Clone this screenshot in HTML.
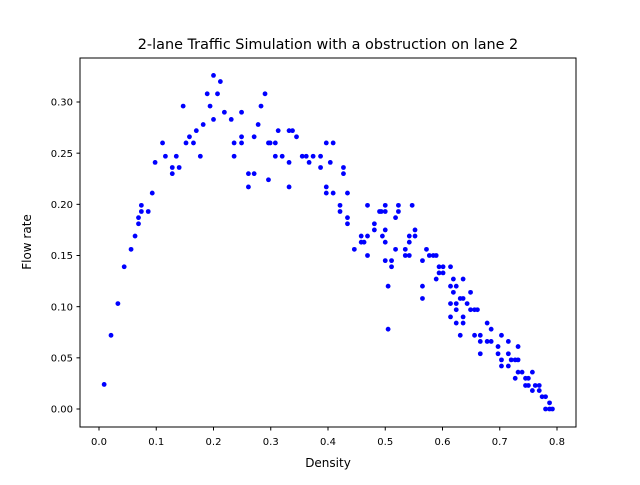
<!DOCTYPE html>
<html><head><meta charset="utf-8"><style>
body{margin:0;background:#fff;}
svg text{font-family:"DejaVu Sans","Liberation Sans",sans-serif;fill:#000;}
</style></head><body>
<svg id="chart" width="640" height="480" xmlns="http://www.w3.org/2000/svg">
<rect width="640" height="480" fill="#fff"/>
<text x="328" y="49" font-size="14.4" text-anchor="middle">2-lane Traffic Simulation with a obstruction on lane 2</text>
<g id="xticks"></g><g id="yticks"></g><g id="points"></g>
<rect x="80" y="58" width="496" height="369" fill="none" stroke="#000" stroke-width="1"/>
<text x="328" y="467" font-size="12" text-anchor="middle">Density</text>
<text transform="translate(31,242) rotate(-90)" font-size="12" text-anchor="middle">Flow rate</text>
</svg>
<script>
const xTicks=[0,0.1,0.2,0.3,0.4,0.5,0.6,0.7,0.8];
const xTickLabels=["0.0","0.1","0.2","0.3","0.4","0.5","0.6","0.7","0.8"];
const yTicks=[0,0.05,0.1,0.15,0.2,0.25,0.3];
const yTickLabels=["0.00","0.05","0.10","0.15","0.20","0.25","0.30"];
const densityValues=[0.200,0.212,0.189,0.207,0.290,0.147,0.194,0.283,0.219,0.249,0.200,0.231,0.278,0.182,0.170,0.313,0.158,0.249,0.271,0.111,0.152,0.165,0.236,0.249,0.296,0.308,0.116,0.135,0.177,0.236,0.308,0.098,0.128,0.140,0.128,0.261,0.271,0.261,0.296,0.093,0.074,0.074,0.086,0.069,0.069,0.063,0.056,0.044,0.033,0.021,0.009,
0.332,0.338,0.345,0.299,0.397,0.409,0.320,0.355,0.362,0.374,0.387,0.332,0.367,0.404,0.387,0.427,0.427,0.332,0.397,0.397,0.409,0.434,0.421,0.421,0.469,0.500,0.523,0.547,0.490,0.493,0.500,0.523,0.434,0.434,0.518,0.481,0.481,0.500,0.552,0.458,0.469,0.495,0.542,0.552,0.458,0.463,0.500,0.542,0.446,0.518,0.535,0.572,0.469,0.535,0.542,0.577,0.584,0.589,
0.500,0.511,0.565,0.511,0.594,0.601,0.614,0.594,0.601,0.589,0.619,0.636,0.505,0.565,0.614,0.624,0.619,0.649,0.631,0.636,0.565,0.614,0.624,0.643,0.649,0.656,0.661,0.624,0.614,0.636,0.624,0.636,0.678,0.685,0.505,0.631,0.656,0.666,0.703,0.666,0.678,0.685,0.715,0.697,0.732,0.666,0.697,0.715,0.703,0.720,0.727,0.732,0.703,0.715,0.732,0.739,0.757,0.727,0.745,0.750,0.745,0.750,0.762,0.769,0.757,0.769,0.774,0.780,0.787,0.780,0.787,0.792];
const flowValues=[0.326,0.320,0.308,0.308,0.308,0.296,0.296,0.296,0.290,0.290,0.283,0.283,0.278,0.278,0.272,0.272,0.266,0.266,0.266,0.260,0.260,0.260,0.260,0.260,0.260,0.260,0.247,0.247,0.247,0.247,0.247,0.241,0.236,0.236,0.230,0.230,0.230,0.217,0.224,0.211,0.199,0.193,0.193,0.187,0.181,0.169,0.156,0.139,0.103,0.072,0.024,
0.272,0.272,0.266,0.260,0.260,0.260,0.247,0.247,0.247,0.247,0.247,0.241,0.241,0.241,0.236,0.236,0.230,0.217,0.217,0.211,0.211,0.211,0.199,0.193,0.199,0.199,0.199,0.199,0.193,0.193,0.193,0.193,0.187,0.181,0.187,0.181,0.175,0.175,0.175,0.169,0.169,0.169,0.169,0.169,0.163,0.163,0.163,0.163,0.156,0.156,0.156,0.156,0.150,0.150,0.150,0.150,0.150,0.150,
0.145,0.145,0.145,0.139,0.139,0.139,0.139,0.133,0.133,0.127,0.127,0.127,0.120,0.120,0.120,0.120,0.114,0.114,0.108,0.108,0.108,0.103,0.103,0.103,0.097,0.097,0.097,0.097,0.090,0.090,0.084,0.084,0.084,0.078,0.078,0.072,0.072,0.072,0.072,0.066,0.066,0.066,0.066,0.061,0.061,0.054,0.054,0.054,0.048,0.048,0.048,0.048,0.042,0.042,0.036,0.036,0.036,0.030,0.030,0.030,0.023,0.023,0.023,0.023,0.018,0.018,0.012,0.012,0.006,0,0,0];
const NS="http://www.w3.org/2000/svg";
function xScale(v){return 99+v*572.5;}
function yScale(v){return 409-v*1023.3;}
const xg=document.getElementById('xticks'),yg=document.getElementById('yticks'),pg=document.getElementById('points');
xTicks.forEach((t,i)=>{
 const l=document.createElementNS(NS,'line');
 
 
 l.setAttribute('x1',xScale(t));l.setAttribute('x2',xScale(t));l.setAttribute('y1',427);l.setAttribute('y2',430.5);l.setAttribute('stroke','#000');
 xg.appendChild(l);
 const tx=document.createElementNS(NS,'text');
 
 
 tx.setAttribute('x',xScale(t));tx.setAttribute('y',445);tx.setAttribute('font-size','10');tx.setAttribute('text-anchor','middle');
 tx.textContent=xTickLabels[i];xg.appendChild(tx);
});
yTicks.forEach((t,i)=>{
 const l=document.createElementNS(NS,'line');
 
 
 l.setAttribute('x1',76.5);l.setAttribute('x2',80);l.setAttribute('y1',yScale(t));l.setAttribute('y2',yScale(t));l.setAttribute('stroke','#000');
 yg.appendChild(l);
 const tx=document.createElementNS(NS,'text');
 
 
 tx.setAttribute('x',73);tx.setAttribute('y',yScale(t)+3.6);tx.setAttribute('font-size','10');tx.setAttribute('text-anchor','end');
 tx.textContent=yTickLabels[i];yg.appendChild(tx);
});
densityValues.forEach((d,i)=>{
 const c=document.createElementNS(NS,'circle');
 
 
 c.setAttribute('cx',xScale(d));c.setAttribute('cy',yScale(flowValues[i]));c.setAttribute('r',2.4);c.setAttribute('fill','#0000ff');
 pg.appendChild(c);
});
</script>
</body></html>
